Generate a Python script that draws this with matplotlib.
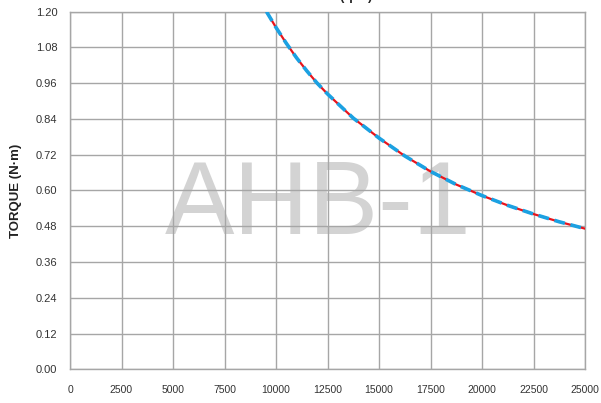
import matplotlib
matplotlib.use("Agg")
import matplotlib.pyplot as plt

plt.rcParams['font.family'] = ['Liberation Sans', 'DejaVu Sans']

speed = [9540, 10000, 10500, 11000, 11500, 12000, 12500, 13750, 15000, 16250, 17500, 18750, 20000, 21250, 22500, 23750, 25000]
torque_a = [1.200, 1.147, 1.094, 1.045, 1.001, 0.960, 0.924, 0.843, 0.776, 0.716, 0.664, 0.620, 0.583, 0.550, 0.521, 0.495, 0.472]
torque_b = [1.200, 1.147, 1.094, 1.045, 1.001, 0.960, 0.924, 0.843, 0.776, 0.716, 0.664, 0.620, 0.583, 0.550, 0.521, 0.495, 0.472]

xticks = [0, 2500, 5000, 7500, 10000, 12500, 15000, 17500, 20000, 22500, 25000]
yticks = [0.00, 0.12, 0.24, 0.36, 0.48, 0.60, 0.72, 0.84, 0.96, 1.08, 1.20]

W, H = 601, 403
fig = plt.figure(figsize=(W/100, H/100), dpi=100)
ax = fig.add_axes([70/W, (H-369.3)/H, 515/W, (369.3-11.7)/H])

ax.set_xlim(0, 25000)
ax.set_ylim(0, 1.2)
ax.set_xticks(xticks)
ax.set_xticklabels([str(v) for v in xticks])
ax.set_yticks(yticks)
ax.set_yticklabels([f"{v:.2f}" for v in yticks])
ax.tick_params(axis='both', length=0, labelsize=8, colors='#333333')
ax.tick_params(axis='x', pad=11, labelsize=7.5)
ax.tick_params(axis='y', pad=9)

ax.grid(True, color='#a6a6a6', linewidth=1.0, zorder=1)
ax.set_axisbelow(False)
for s in ax.spines.values():
    s.set_color('#a6a6a6')
    s.set_linewidth(1.0)
    s.set_zorder(1)

# watermark: spans ~172-465 px horizontally, caps ~162-252 px vertically
ax.text((318 - 70) / 515, (369.3 - 207) / (369.3 - 11.7), 'AHB-1', transform=ax.transAxes,
        fontsize=75, color='#d3d3d3', ha='center', va='center', zorder=0)

ax.plot(speed, torque_a, color='#e8141c', linewidth=1.6, zorder=3, clip_on=True)
ax.plot(speed, torque_b, color='#1ba1e2', linewidth=2.6, linestyle=(0, (3, 1.6)), zorder=4, clip_on=True)

ax.set_ylabel('TORQUE (N·m)', fontsize=9.5, fontweight='bold', color='#222222')
ax.yaxis.set_label_coords(-48/515, 0.5)

fig.text(333/W, 1 + 0.3/H, 'SPEED (rpm)', fontsize=9, fontweight='bold', color='#222222',
         ha='center', va='baseline')

fig.savefig('out.png', dpi=100)
